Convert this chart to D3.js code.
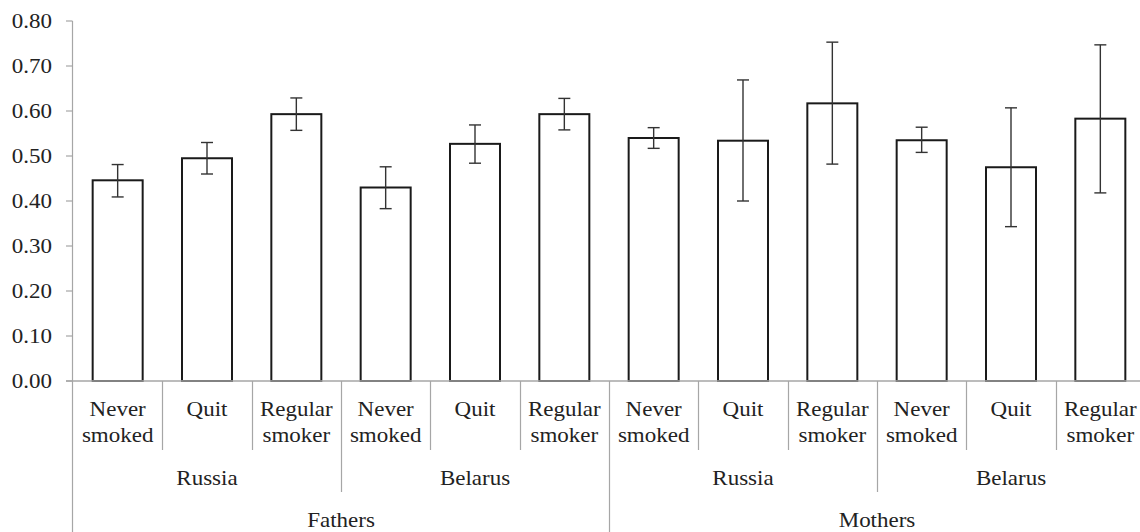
<!DOCTYPE html>
<html>
<head>
<meta charset="utf-8">
<script src="https://cdn.jsdelivr.net/npm/d3@7"></script>
<style>
html,body{margin:0;padding:0;background:#fff;}
svg{display:block;}
</style>
</head>
<body>
<svg id="chart" width="1140" height="532"></svg>
<script>
const categories = ["Never smoked","Quit","Regular smoker","Never smoked","Quit","Regular smoker","Never smoked","Quit","Regular smoker","Never smoked","Quit","Regular smoker"];
const countries = ["Russia","Belarus","Russia","Belarus"];
const parents = ["Fathers","Mothers"];
const values = [0.446,0.495,0.593,0.430,0.527,0.593,0.540,0.534,0.617,0.535,0.475,0.583];
const errLow = [0.409,0.460,0.557,0.383,0.484,0.558,0.517,0.400,0.482,0.508,0.343,0.418];
const errHigh = [0.481,0.530,0.629,0.476,0.569,0.628,0.563,0.669,0.753,0.564,0.607,0.747];
const yTicks = [0,0.1,0.2,0.3,0.4,0.5,0.6,0.7,0.8];

const svg = d3.select("#chart");
const font = "'Liberation Serif','Times New Roman',serif";
const fs = 20, sx = 1.15;
const axisColor = "#a6a6a6";

const idx = d3.range(categories.length);
const x = d3.scaleBand().domain(idx).range([73, 1145]).padding(0);
const y = d3.scaleLinear().domain([0, 0.8]).range([381, 21]);
const bw = x.bandwidth();
const barW = 50;

function label(g, tx, ty, str) {
  g.append("text")
    .attr("transform", `translate(${tx},${ty}) scale(${sx},1)`)
    .attr("text-anchor", "middle")
    .attr("font-family", font)
    .attr("font-size", fs)
    .attr("fill", "#222")
    .text(str);
}

// Y axis
const yAxis = svg.append("g");
yAxis.append("line").attr("x1", 72.5).attr("x2", 72.5).attr("y1", y(0.8)).attr("y2", 532)
  .attr("stroke", axisColor).attr("stroke-width", 1.2);
yTicks.forEach(t => {
  yAxis.append("line").attr("x1", 66).attr("x2", 72.5).attr("y1", y(t)).attr("y2", y(t))
    .attr("stroke", axisColor).attr("stroke-width", 1.2);
  yAxis.append("text")
    .attr("transform", `translate(52,${y(t) + 7}) scale(${sx},1)`)
    .attr("text-anchor", "end")
    .attr("font-family", font).attr("font-size", fs).attr("fill", "#222")
    .text(d3.format(".2f")(t));
});

// bars
svg.append("g").selectAll("rect").data(idx).join("rect")
  .attr("x", i => x(i) + bw / 2 - barW / 2)
  .attr("y", i => y(values[i]))
  .attr("width", barW)
  .attr("height", i => y(0) - y(values[i]))
  .attr("fill", "#fff")
  .attr("stroke", "#1a1a1a")
  .attr("stroke-width", 2);

// zero line
svg.append("line").attr("x1", 66).attr("x2", 1145).attr("y1", y(0)).attr("y2", y(0))
  .attr("stroke", axisColor).attr("stroke-width", 1.5);

// error bars
const eg = svg.append("g").attr("stroke", "#333").attr("stroke-width", 1.4);
idx.forEach(i => {
  const cx = x(i) + bw / 2;
  eg.append("line").attr("x1", cx).attr("x2", cx).attr("y1", y(errLow[i])).attr("y2", y(errHigh[i]));
  eg.append("line").attr("x1", cx - 6).attr("x2", cx + 6).attr("y1", y(errLow[i])).attr("y2", y(errLow[i]));
  eg.append("line").attr("x1", cx - 6).attr("x2", cx + 6).attr("y1", y(errHigh[i])).attr("y2", y(errHigh[i]));
});

// separators
const sg = svg.append("g").attr("stroke", axisColor).attr("stroke-width", 1.2);
idx.slice(1).forEach(i => {
  let y2 = 450;
  if (i % 3 === 0) y2 = 492;
  if (i % 6 === 0) y2 = 532;
  const xx = Math.round(x(i)) + 0.5;
  sg.append("line").attr("x1", xx).attr("x2", xx).attr("y1", y(0)).attr("y2", y2);
});

// category labels
const lg = svg.append("g");
idx.forEach(i => {
  const cx = x(i) + bw / 2;
  const words = categories[i].split(" ");
  words.forEach((w, k) => label(lg, cx, 416 + k * 26, w));
});
countries.forEach((c, j) => {
  const cx = x(j * 3) + bw * 1.5;
  label(lg, cx, 485, c);
});
parents.forEach((p, j) => {
  const cx = x(j * 6) + bw * 3;
  label(lg, cx, 527, p);
});
</script>
</body>
</html>
